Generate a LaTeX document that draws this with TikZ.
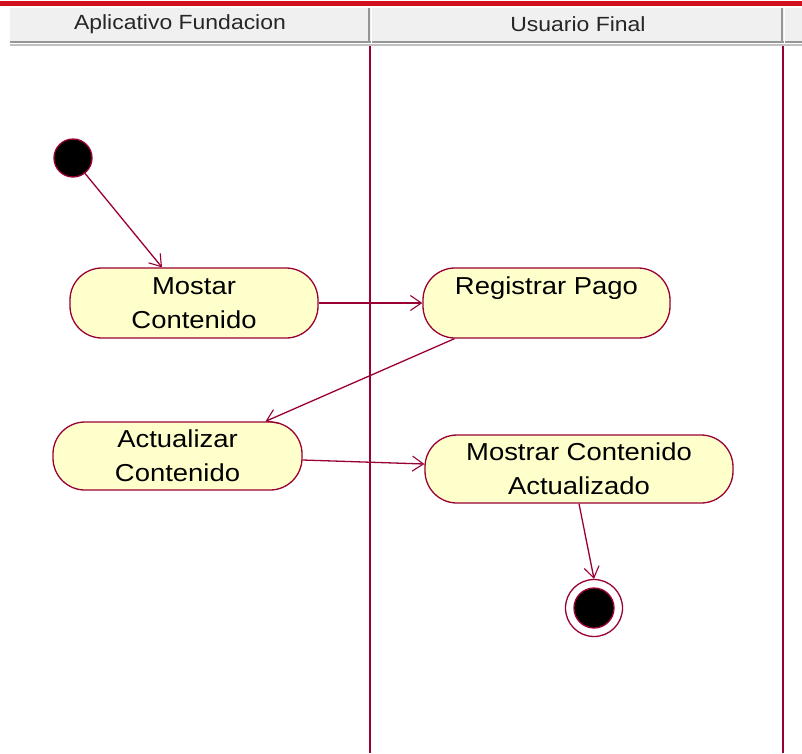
\documentclass[tikz,border=0pt]{standalone}
\usepackage{fontspec}
\setmainfont{Liberation Sans}[FakeStretch=1.12]
\usetikzlibrary{arrows.meta,calc}
\definecolor{wire}{RGB}{153,0,51}
\definecolor{actfill}{RGB}{255,255,204}
\definecolor{hdrfill}{RGB}{240,240,240}
\definecolor{hdrline}{RGB}{150,150,150}
\definecolor{topred}{RGB}{210,16,32}
\begin{document}
\begin{tikzpicture}[x=1pt,y=-1pt,
  activity/.style={draw=wire, line width=1.3pt, fill=actfill, rectangle,
    rounded corners=32pt, align=center, inner sep=0pt,
    font=\fontsize{24.5}{34}\selectfont},
  flow/.style={draw=wire, line width=1.3pt,
    -{Straight Barb[length=11pt,width=15pt,line width=1.1pt]}},
  lane/.style={draw=wire, line width=1.3pt},
  hdrtext/.style={font=\fontsize{20.5}{24}\selectfont, text=black!85}]
  \useasboundingbox (0,0) rectangle (802,753);
  % top border and lane header bar
  \fill[topred] (0,1) rectangle (802,6);
  \fill[hdrfill] (10,8) rectangle (802,41);
  \draw[hdrline, line width=1.5pt] (10,42) -- (802,42);
  \draw[hdrline!60, line width=1.5pt] (10,45) -- (802,45);
  \draw[hdrline, line width=1.2pt] (369,8) -- (369,43);
  \draw[white, line width=1pt] (371,8) -- (371,43);
  \draw[hdrline, line width=1.2pt] (782,8) -- (782,43);
  \draw[white, line width=1pt] (784,8) -- (784,43);
  \node[hdrtext] (h1) at (180,24) {Aplicativo Fundacion};
  \node[hdrtext] (h2) at (578,24) {Usuario Final};
  % swimlane separators
  \draw[lane] (370,46) -- (370,753);
  \draw[lane] (783,46) -- (783,753);
  % activities
  \node[activity, minimum width=248pt, minimum height=70pt] (mostar) at (194,303) {Mostar\\Contenido};
  \node[activity, minimum width=247pt, minimum height=70pt] (registrar) at (546.5,303) {Registrar Pago\\\mbox{}};
  \node[activity, minimum width=249pt, minimum height=68pt] (actualizar) at (177.5,456) {Actualizar\\Contenido};
  \node[activity, minimum width=308pt, minimum height=68pt] (mca) at (579,469) {Mostrar Contenido\\Actualizado};
  % initial and final states
  \node[circle, fill=black, draw=wire, line width=1.3pt, minimum size=38pt, inner sep=0pt] (init) at (73,158) {};
  \node[circle, draw=wire, fill=white, line width=1.3pt, minimum size=57pt, inner sep=0pt] (final) at (594,608) {};
  \node[circle, fill=black, draw=wire, line width=1.3pt, minimum size=40pt, inner sep=0pt] (finalcore) at (final.center) {};
  % control flows
  \draw[flow] (init.-52) -- ([xshift=-32pt]mostar.north);
  \draw[flow] (mostar.east) -- (registrar.west);
  \draw[flow] ([xshift=-92pt]registrar.south) -- ([xshift=88pt]actualizar.north);
  \draw[flow] ([yshift=-4pt]actualizar.east) -- ([yshift=5pt]mca.west);
  \draw[flow] (mca.south) -- (final.north);
\end{tikzpicture}
\end{document}
